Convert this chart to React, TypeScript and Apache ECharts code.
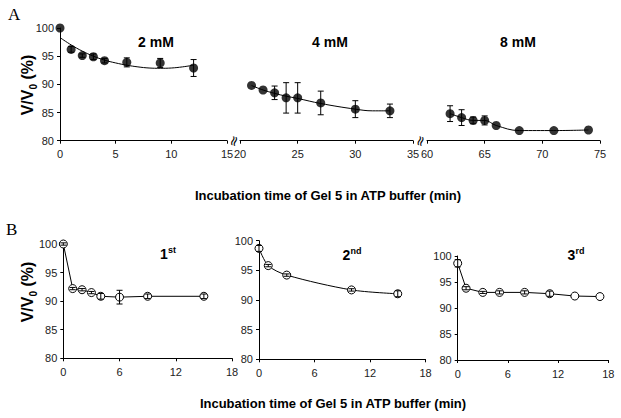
import React, { useEffect, useRef } from 'react';
import * as echarts from 'echarts';

const FONT = '"Liberation Sans", Arial, Helvetica, sans-serif';

// ---- Panel A data ----
const a2Time = [0, 1, 2, 3, 4, 6, 9, 12];
const a2Mean = [100, 96.2, 95.1, 94.9, 94.2, 93.9, 93.8, 92.9];
const a2Err = [0, 0.5, 0.3, 0.5, 0.4, 0.8, 0.8, 1.5];
const a2FitTime = [0, 1, 2, 3, 4, 5, 6, 7, 8, 9, 10, 11, 12];
const a2FitVal = [98.3, 97.0, 95.9, 95.0, 94.3, 93.8, 93.4, 93.1, 92.9, 92.85, 92.9, 93.1, 93.4];

const a4Time = [21, 22, 23, 24, 25, 27, 30, 33];
const a4Mean = [89.8, 89.0, 88.5, 87.6, 87.6, 86.7, 85.6, 85.3];
const a4Err = [0, 0, 1.2, 2.7, 2.7, 2.1, 1.5, 1.2];
const a4FitTime = [21, 22, 23, 24, 25, 27, 30, 31.5, 33];
const a4FitVal = [89.8, 89.0, 88.4, 87.9, 87.5, 86.6, 85.6, 85.3, 85.3];

const a8Time = [62, 63, 64, 65, 66, 68, 71, 74];
const a8Mean = [84.8, 84.1, 83.6, 83.6, 82.7, 81.8, 81.8, 81.9];
const a8Err = [1.4, 1.4, 0.6, 0.8, 0, 0, 0, 0];

// ---- Panel B data ----
const b1Time = [0, 1, 2, 3, 4, 6, 9, 15];
const b1Mean = [100, 92.2, 92.0, 91.5, 90.85, 90.7, 90.85, 90.85];
const b1Err = [0.2, 0.2, 0.2, 0.2, 0.5, 1.2, 0.4, 0.4];

const b2Time = [0, 1, 3, 10, 15];
const b2Mean = [98.7, 95.8, 94.2, 91.7, 91.05];
const b2Err = [0.5, 0.2, 0.2, 0.2, 0.5];

const b3Time = [0, 1, 3, 5, 8, 11, 14, 17];
const b3Mean = [98.6, 93.8, 93.0, 93.0, 93.0, 92.75, 92.3, 92.2];
const b3Err = [0.7, 0.3, 0.2, 0.3, 0.3, 0.5, 0, 0];

const yTicks = [80, 85, 90, 95, 100];

const pairs = (xs: number[], ys: number[]) => xs.map((x, i) => [x, ys[i]]);
const errRows = (xs: number[], ys: number[], es: number[]) =>
  xs.map((x, i) => [x, ys[i] - es[i], ys[i] + es[i]]).filter((r, i) => es[i] > 0);

const errSeries = (idx: number, xs: number[], ys: number[], es: number[]) => ({
  type: 'custom',
  xAxisIndex: idx,
  yAxisIndex: idx,
  z: 5,
  encode: { x: 0, y: [1, 2] },
  data: errRows(xs, ys, es),
  renderItem: (params: any, api: any) => {
    const x = api.value(0);
    const p1 = api.coord([x, api.value(2)]);
    const p2 = api.coord([x, api.value(1)]);
    const w = 3;
    const st = { stroke: '#000', lineWidth: 1 };
    return {
      type: 'group',
      children: [
        { type: 'line', shape: { x1: p1[0], y1: p1[1], x2: p2[0], y2: p2[1] }, style: st },
        { type: 'line', shape: { x1: p1[0] - w, y1: p1[1], x2: p1[0] + w, y2: p1[1] }, style: st },
        { type: 'line', shape: { x1: p2[0] - w, y1: p2[1], x2: p2[0] + w, y2: p2[1] }, style: st },
      ],
    };
  },
});

const grids = [
  { left: 60, top: 28, width: 167, height: 112.7 },
  { left: 240, top: 28, width: 173, height: 112.7 },
  { left: 427, top: 28, width: 173, height: 112.7 },
  { left: 63.3, top: 244, width: 168.7, height: 114.3 },
  { left: 259, top: 240.7, width: 166.5, height: 118.6 },
  { left: 457.7, top: 256, width: 150.6, height: 104 },
];

const xRanges = [
  [0, 15, 5],
  [20, 35, 5],
  [60, 75, 5],
  [0, 18, 6],
  [0, 18, 6],
  [0, 18, 6],
];

const axisLine = { show: true, lineStyle: { color: '#000', width: 1 } };
const axisTick = { show: true, length: 3, lineStyle: { color: '#000', width: 1 } };
const axisLabel = { fontSize: 11, color: '#222', fontFamily: FONT };

export default function App() {
  const ref = useRef<HTMLDivElement>(null);
  useEffect(() => {
    document.body.style.margin = '0';
    const chart = echarts.init(ref.current!, null, { renderer: 'svg' });

    const xAxis = xRanges.map((r, i) => ({
      type: 'value',
      gridIndex: i,
      min: r[0],
      max: r[1],
      interval: r[2],
      axisLine,
      axisTick,
      axisLabel: { ...axisLabel, margin: 8 },
      splitLine: { show: false },
    }));
    const yAxis = grids.map((g, i) => ({
      type: 'value',
      gridIndex: i,
      min: yTicks[0],
      max: yTicks[yTicks.length - 1],
      interval: 5,
      show: !(i === 1 || i === 2),
      axisLine,
      axisTick,
      axisLabel: { ...axisLabel, margin: 6 },
      splitLine: { show: false },
    }));

    const lineStyle = { color: '#000', width: 1 };
    const filled = (idx: number, xs: number[], ys: number[]) => ({
      type: 'scatter',
      xAxisIndex: idx,
      yAxisIndex: idx,
      symbol: 'circle',
      symbolSize: 9,
      itemStyle: { color: '#000' },
      z: 4,
      data: pairs(xs, ys),
    });
    const fit = (idx: number, xs: number[], ys: number[]) => ({
      type: 'line',
      xAxisIndex: idx,
      yAxisIndex: idx,
      smooth: 0.4,
      showSymbol: false,
      symbol: 'none',
      lineStyle,
      z: 3,
      data: pairs(xs, ys),
    });
    const openLine = (idx: number, xs: number[], ys: number[], smooth: number) => ({
      type: 'line',
      xAxisIndex: idx,
      yAxisIndex: idx,
      smooth,
      symbol: 'circle',
      symbolSize: 8,
      showSymbol: true,
      itemStyle: { color: '#fff', borderColor: '#000', borderWidth: 1 },
      lineStyle,
      z: 3,
      data: pairs(xs, ys),
    });

    const series: any[] = [
      fit(0, a2FitTime, a2FitVal),
      filled(0, a2Time, a2Mean),
      errSeries(0, a2Time, a2Mean, a2Err),
      fit(1, a4FitTime, a4FitVal),
      filled(1, a4Time, a4Mean),
      errSeries(1, a4Time, a4Mean, a4Err),
      fit(2, a8Time, a8Mean),
      filled(2, a8Time, a8Mean),
      errSeries(2, a8Time, a8Mean, a8Err),
      openLine(3, b1Time, b1Mean, 0),
      errSeries(3, b1Time, b1Mean, b1Err),
      openLine(4, b2Time, b2Mean, 0.3),
      errSeries(4, b2Time, b2Mean, b2Err),
      openLine(5, b3Time, b3Mean, 0),
      errSeries(5, b3Time, b3Mean, b3Err),
    ];

    const yLabel = (x: number, y: number) => ({
      type: 'text',
      x,
      y,
      rotation: Math.PI / 2,
      style: {
        text: '{a|V/V}{s|0}{a| (%)}',
        align: 'center',
        verticalAlign: 'middle',
        fill: '#000',
        rich: {
          a: { fontSize: 16, fontWeight: 'bold', fontFamily: FONT, fill: '#000', lineHeight: 19, verticalAlign: 'bottom' },
          s: { fontSize: 10, fontWeight: 'bold', fontFamily: FONT, fill: '#000', lineHeight: 14, verticalAlign: 'bottom', padding: [0, 0, -3, 0] },
        },
      },
    });
    const title = (x: number, y: number, text: string) => ({
      type: 'text',
      x,
      y,
      style: { text, align: 'center', verticalAlign: 'middle', fontSize: 14, fontWeight: 'bold', fontFamily: FONT, fill: '#000' },
    });
    const ordinal = (x: number, y: number, n: string, sup: string) => ({
      type: 'text',
      x,
      y,
      style: {
        text: `{a|${n}}{s|${sup}}`,
        align: 'center',
        verticalAlign: 'middle',
        rich: {
          a: { fontSize: 14, fontWeight: 'bold', fontFamily: FONT, fill: '#000', lineHeight: 16, verticalAlign: 'bottom' },
          s: { fontSize: 9, fontWeight: 'bold', fontFamily: FONT, fill: '#000', lineHeight: 16, verticalAlign: 'top' },
        },
      },
    });
    const brk = (x: number, y: number) => ({
      type: 'text',
      x,
      y,
      rotation: Math.PI / 2 - 0.3,
      style: { text: '≈', align: 'center', verticalAlign: 'middle', fontSize: 14, fontFamily: 'DejaVu Sans', fill: '#000' },
    });
    const xTitle = (x: number, y: number) => ({
      type: 'text',
      x,
      y,
      style: {
        text: 'Incubation time of Gel 5 in ATP buffer (min)',
        align: 'center',
        verticalAlign: 'middle',
        fontSize: 13,
        fontWeight: 'bold',
        fontFamily: FONT,
        fill: '#000',
      },
    });

    chart.setOption({
      animation: false,
      backgroundColor: '#fff',
      grid: grids.map((g) => ({ ...g, containLabel: false })),
      xAxis,
      yAxis,
      series,
      graphic: [
        { type: 'text', x: 8, y: 6, style: { text: 'A', fontSize: 17, fontFamily: '"Liberation Serif", serif', fill: '#000' } },
        { type: 'text', x: 6, y: 221, style: { text: 'B', fontSize: 17, fontFamily: '"Liberation Serif", serif', fill: '#000' } },
        yLabel(26, 85),
        yLabel(26, 292),
        title(156, 42, '2 mM'),
        title(330, 42, '4 mM'),
        title(518, 42, '8 mM'),
        ordinal(168, 253, '1', 'st'),
        ordinal(352, 254, '2', 'nd'),
        ordinal(576, 254, '3', 'rd'),
        brk(233.5, 141),
        brk(420, 141),
        xTitle(328, 195),
        xTitle(333, 403),
      ],
    });
    return () => chart.dispose();
  }, []);
  return <div ref={ref} style={{ width: 621, height: 418, position: 'absolute', left: 0, top: 0 }} />;
}
